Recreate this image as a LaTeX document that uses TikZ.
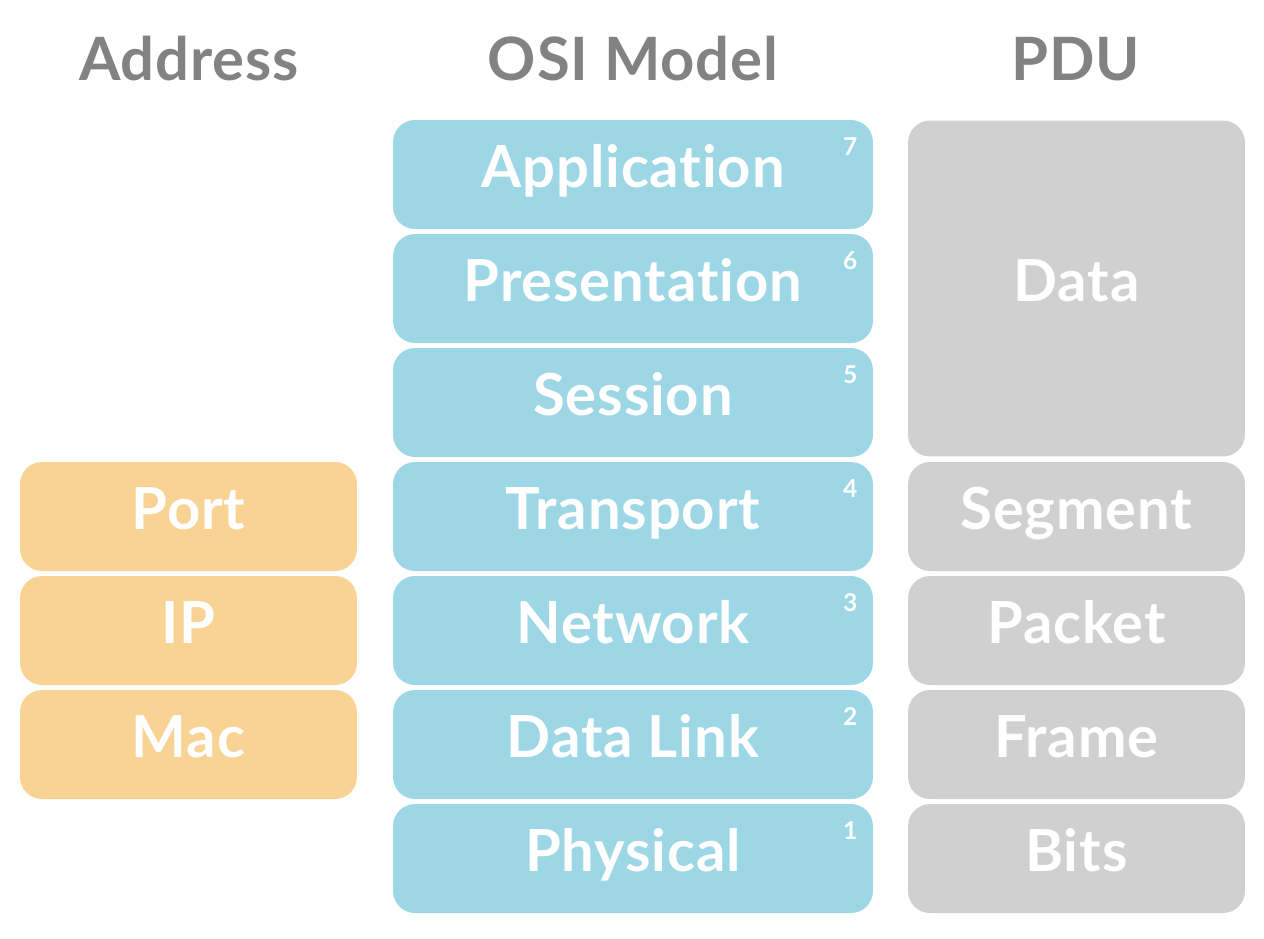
\documentclass[tikz,border=0pt]{standalone}
\usepackage{fontspec}
\setmainfont{Lato}[Ligatures=NoCommon,LetterSpace=1.5]
\definecolor{osiblue}{RGB}{157,215,230}
\definecolor{addrorange}{RGB}{248,211,148}
\definecolor{pdugray}{RGB}{208,208,208}
\definecolor{headgray}{RGB}{130,130,130}

\begin{document}
\begin{tikzpicture}[x=0.02cm,y=-0.02cm,
  layer/.style={fill=#1,rounded corners=0.44cm,text=white,inner sep=0pt,
    minimum height=2.18cm,text height=0.84cm,text depth=0.34cm,
    font=\fontsize{33}{36}\selectfont\bfseries},
  osi/.style={layer=osiblue,minimum width=9.6cm},
  addr/.style={layer=addrorange,minimum width=6.74cm},
  pdu/.style={layer=pdugray,minimum width=6.74cm},
  num/.style={text=white,inner sep=0pt,font=\fontsize{14}{16}\selectfont\bfseries},
  head/.style={text=headgray,inner sep=0pt,font=\fontsize{34}{38}\selectfont\bfseries}]
  \useasboundingbox (0,0) rectangle (1264,938);
  % column titles
  \node[head] (haddr) at (189,59) {Address};
  \node[head] (hosi) at (633,59) {OSI Model};
  \node[head] (hpdu) at (1076,59) {PDU};
  % OSI layers
  \node[osi] (app) at (633,174.5) {Application};
  \node[osi] (pres) at (633,288.5) {Presentation};
  \node[osi] (sess) at (633,402.5) {Session};
  \node[osi] (trans) at (633,516.5) {Transport};
  \node[osi] (net) at (633,630.5) {Network};
  \node[osi] (link) at (633,744.5) {Data Link};
  \node[osi] (phys) at (633,858.5) {Physical};
  % layer numbers
  \node[num] (n7) at ([xshift=-0.46cm,yshift=-0.54cm]app.north east) {7};
  \node[num] (n6) at ([xshift=-0.46cm,yshift=-0.54cm]pres.north east) {6};
  \node[num] (n5) at ([xshift=-0.46cm,yshift=-0.54cm]sess.north east) {5};
  \node[num] (n4) at ([xshift=-0.46cm,yshift=-0.54cm]trans.north east) {4};
  \node[num] (n3) at ([xshift=-0.46cm,yshift=-0.54cm]net.north east) {3};
  \node[num] (n2) at ([xshift=-0.46cm,yshift=-0.54cm]link.north east) {2};
  \node[num] (n1) at ([xshift=-0.46cm,yshift=-0.54cm]phys.north east) {1};
  % addresses
  \node[addr] (port) at (188.5,516.5) {Port};
  \node[addr] (ip) at (188.5,630.5) {IP};
  \node[addr] (mac) at (188.5,744.5) {Mac};
  % PDUs
  \node[pdu,minimum height=6.72cm] (data) at (1076.5,288.5) {Data};
  \node[pdu] (seg) at (1076.5,516.5) {Segment};
  \node[pdu] (pkt) at (1076.5,630.5) {Packet};
  \node[pdu] (frame) at (1076.5,744.5) {Frame};
  \node[pdu] (bits) at (1076.5,858.5) {Bits};
\end{tikzpicture}
\end{document}
